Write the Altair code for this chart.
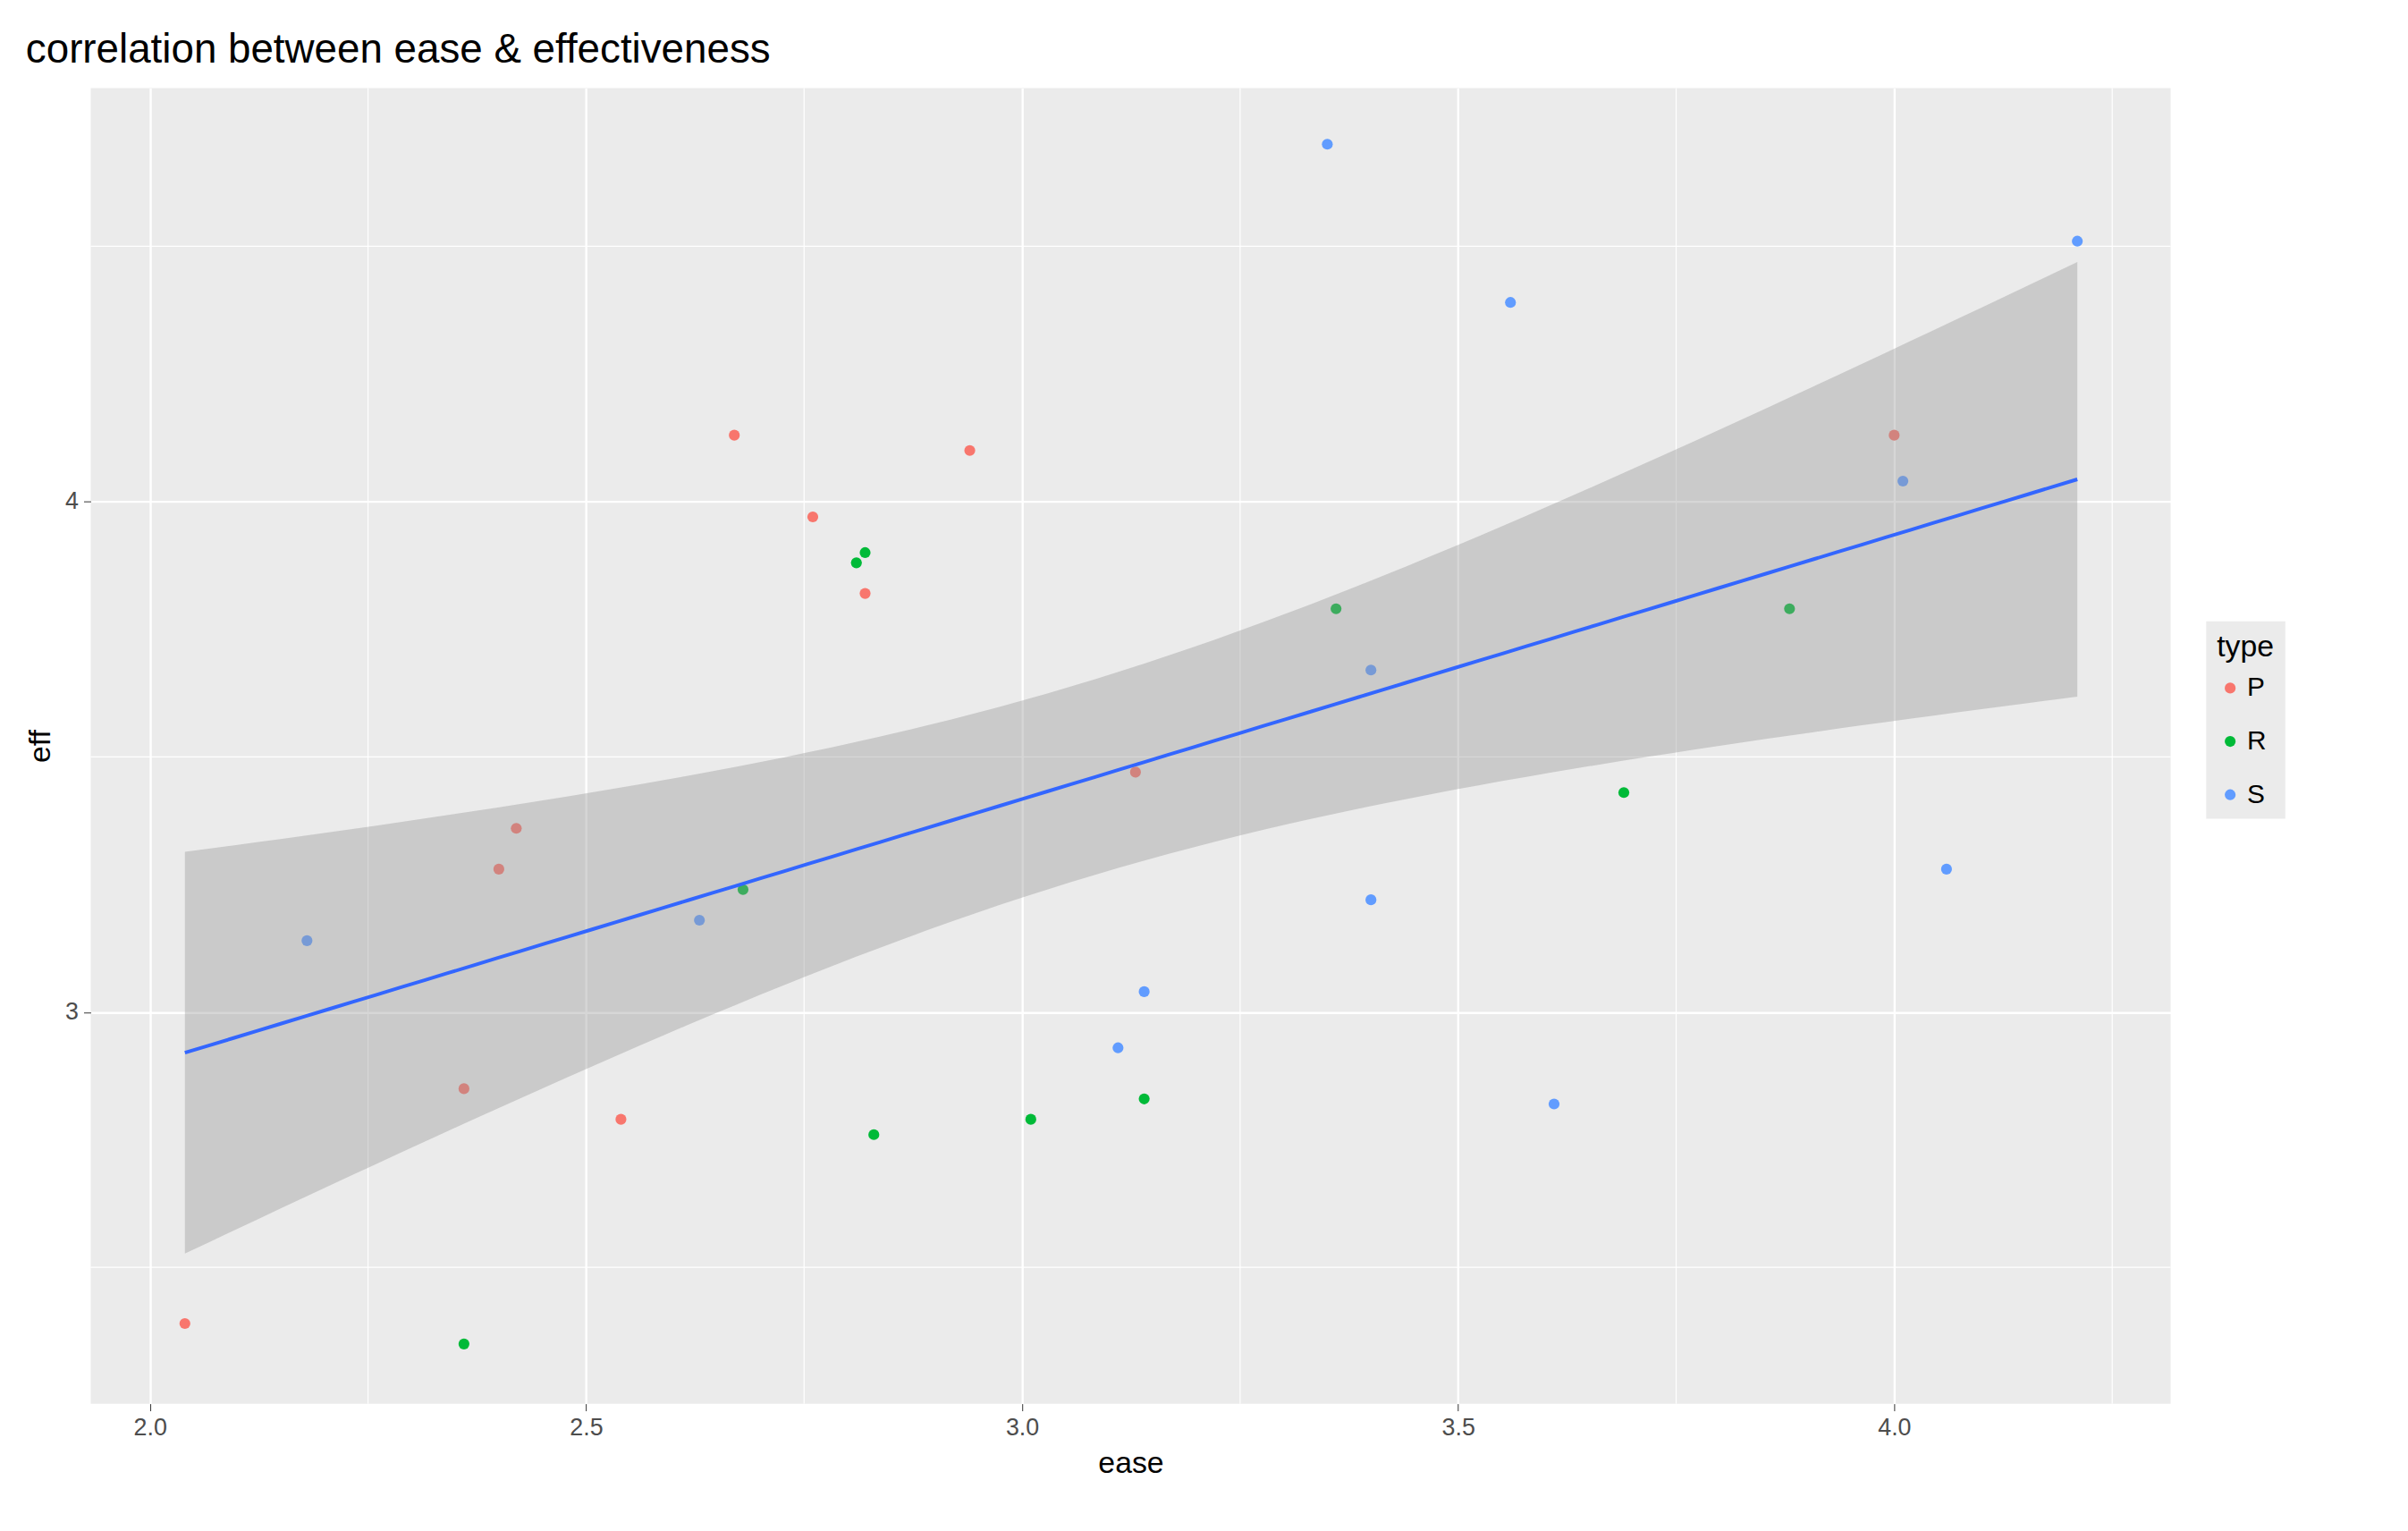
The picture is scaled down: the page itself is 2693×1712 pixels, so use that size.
import altair as alt
import numpy as np
import pandas as pd

# Points
p_ease = [2.04, 2.40, 2.42, 2.36, 2.54, 2.67, 2.76, 2.82, 2.94, 3.13, 4.00]
p_eff = [2.39, 3.28, 3.36, 2.85, 2.79, 4.13, 3.97, 3.82, 4.10, 3.47, 4.13]
r_ease = [2.36, 2.68, 2.81, 2.82, 2.83, 3.01, 3.14, 3.36, 3.69, 3.88]
r_eff = [2.35, 3.24, 3.88, 3.90, 2.76, 2.79, 2.83, 3.79, 3.43, 3.79]
s_ease = [2.18, 2.63, 3.11, 3.14, 3.35, 3.40, 3.40, 3.56, 3.61, 4.01, 4.06, 4.21]
s_eff = [3.14, 3.18, 2.93, 3.04, 4.70, 3.67, 3.22, 4.39, 2.82, 4.04, 3.28, 4.51]

x_minor = [2.25, 2.75, 3.25, 3.75, 4.25]
y_minor = [2.5, 3.5, 4.5]

df = pd.DataFrame({
    "ease": p_ease + r_ease + s_ease,
    "eff": p_eff + r_eff + s_eff,
    "type": ["P"] * len(p_ease) + ["R"] * len(r_ease) + ["S"] * len(s_ease),
})

# Linear fit with 95% confidence band (like geom_smooth(method="lm"))
x = df["ease"].to_numpy()
y = df["eff"].to_numpy()
n = len(x)
b, a = np.polyfit(x, y, 1)
resid = y - (a + b * x)
s = np.sqrt((resid ** 2).sum() / (n - 2))
sxx = ((x - x.mean()) ** 2).sum()
xs = np.linspace(x.min(), x.max(), 80)
fit = a + b * xs
se = s * np.sqrt(1 / n + (xs - x.mean()) ** 2 / sxx)
t = 2.04
band = pd.DataFrame({"ease": xs, "fit": fit, "lo": fit - t * se, "hi": fit + t * se})

xsc = alt.Scale(domain=[1.932, 4.317], nice=False, zero=False)
ysc = alt.Scale(domain=[2.233, 4.81], nice=False, zero=False)

x_axis = alt.X("ease:Q", scale=xsc, title="ease",
               axis=alt.Axis(values=[2.0, 2.5, 3.0, 3.5, 4.0], format=".1f"))
y_axis = alt.Y("eff:Q", scale=ysc, title="eff", axis=alt.Axis(values=[3, 4], format="d"))

xgrid = alt.Chart(pd.DataFrame({"v": x_minor})).mark_rule(color="white", strokeWidth=1.2).encode(
    x=alt.X("v:Q", scale=xsc))
ygrid = alt.Chart(pd.DataFrame({"v": y_minor})).mark_rule(color="white", strokeWidth=1.2).encode(
    y=alt.Y("v:Q", scale=ysc))

ribbon = alt.Chart(band).mark_area(color="#999999", opacity=0.4).encode(
    x=alt.X("ease:Q", scale=xsc), y=alt.Y("lo:Q", scale=ysc), y2="hi:Q")

points = alt.Chart(df).mark_circle(size=150, opacity=1).encode(
    x=x_axis, y=y_axis,
    color=alt.Color("type:N", scale=alt.Scale(domain=["P", "R", "S"],
                                              range=["#F8766D", "#00BA38", "#619CFF"]),
                    legend=alt.Legend(title="type", symbolType="circle", symbolSize=150,
                                      fillColor="#EBEBEB", padding=12, rowPadding=30,
                                      orient="none", legendX=2380, legendY=600)))

line = alt.Chart(band).mark_line(color="#3366FF", strokeWidth=4).encode(
    x=alt.X("ease:Q", scale=xsc), y=alt.Y("fit:Q", scale=ysc))

chart = (xgrid + ygrid + points + ribbon + line).properties(
    width=2340, height=1480,
    title=alt.Title("correlation between ease & effectiveness", anchor="start",
                    fontSize=46, font="Liberation Sans", fontWeight="normal", color="black",
                    offset=18),
    background="white",
    padding={"top": 20, "left": 20, "right": 130, "bottom": 10},
).configure_view(fill="#EBEBEB", stroke=None).configure_axis(
    gridColor="white", gridWidth=2.4, domain=False, tickColor="#333333", tickSize=8,
    labelFontSize=27, labelColor="#4D4D4D", titleFontSize=34, titleFontWeight="normal",
    titleColor="black", labelFont="Liberation Sans", titleFont="Liberation Sans",
    labelPadding=6, titlePadding=10,
).configure_legend(
    titleFontSize=34, titleFontWeight="normal", labelFontSize=30,
    titleFont="Liberation Sans", labelFont="Liberation Sans", titlePadding=14,
)

chart.save("out.html", embed_options={"renderer": "svg", "actions": False})
